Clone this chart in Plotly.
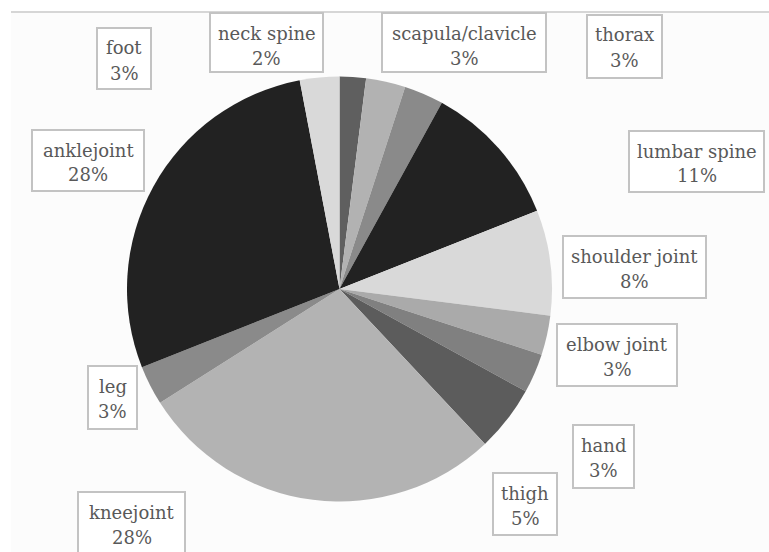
import plotly.graph_objects as go

# Injury sites (clockwise from 12 o'clock) and their shares in percent
sites = ["neck spine", "scapula/clavicle", "thorax", "lumbar spine", "shoulder joint",
         "elbow joint", "hand", "thigh", "kneejoint", "leg", "anklejoint", "foot"]
shares = [2, 3, 3, 11, 8, 3, 3, 5, 28, 3, 28, 3]
grays = ["#5f5f5f", "#b2b2b2", "#8a8a8a", "#222222", "#d9d9d9",
         "#aaaaaa", "#808080", "#5c5c5c", "#b3b3b3", "#8a8a8a", "#222222", "#d9d9d9"]

W, H = 769, 552

# Label box corners in pixels (left, top, right, bottom), one per site
label_boxes = {
    "neck spine": (210, 13, 323, 72),
    "scapula/clavicle": (382, 13, 546, 72),
    "thorax": (587, 15, 662, 78),
    "lumbar spine": (629, 131, 764, 192),
    "shoulder joint": (563, 236, 706, 298),
    "elbow joint": (557, 324, 677, 386),
    "hand": (573, 425, 634, 488),
    "thigh": (493, 473, 557, 535),
    "kneejoint": (78, 492, 185, 554),
    "leg": (88, 366, 137, 429),
    "anklejoint": (32, 130, 144, 191),
    "foot": (97, 28, 151, 89),
}


def px_x(x):
    return x / W


def px_y(y):
    return 1 - y / H


# Pie placement: centre (339.5, 289) px, radius 212.5 px
cx, cy, r = 339.5, 289, 212.5

fig = go.Figure(go.Pie(
    labels=sites,
    values=shares,
    sort=False,
    direction="clockwise",
    rotation=0,
    marker=dict(colors=grays, line=dict(width=0)),
    textinfo="none",
    hoverinfo="label+percent",
    showlegend=False,
    domain=dict(x=[px_x(cx - r), px_x(cx + r)],
                y=[px_y(cy + r), px_y(cy - r)]),
))

shapes = [
    # faint plot-area background and its top rule
    dict(type="rect", xref="paper", yref="paper",
         x0=px_x(11), x1=1, y0=0, y1=px_y(12),
         fillcolor="#fcfcfc", line=dict(width=0), layer="below"),
    dict(type="line", xref="paper", yref="paper",
         x0=px_x(11), x1=1, y0=px_y(12), y1=px_y(12),
         line=dict(color="#d6d6d6", width=2)),
]

annotations = []
font = dict(family="DejaVu Serif", size=18, color="#595959")
for site, share in zip(sites, shares):
    x0, y0, x1, y1 = label_boxes[site]
    shapes.append(dict(type="rect", xref="paper", yref="paper",
                       x0=px_x(x0), x1=px_x(x1), y0=px_y(y1), y1=px_y(y0),
                       fillcolor="white", line=dict(color="#c3c3c3", width=2)))
    xc = px_x((x0 + x1) / 2)
    annotations.append(dict(text=site, x=xc, y=px_y(y0 + 20), xref="paper", yref="paper",
                            xanchor="center", yanchor="middle", showarrow=False, font=font))
    annotations.append(dict(text=f"{share}%", x=xc, y=px_y(y0 + 45), xref="paper", yref="paper",
                            xanchor="center", yanchor="middle", showarrow=False, font=font))

fig.update_layout(
    width=W, height=H,
    margin=dict(l=0, r=0, t=0, b=0),
    paper_bgcolor="white",
    plot_bgcolor="white",
    shapes=shapes,
    annotations=annotations,
)

fig.write_html("out.html")
